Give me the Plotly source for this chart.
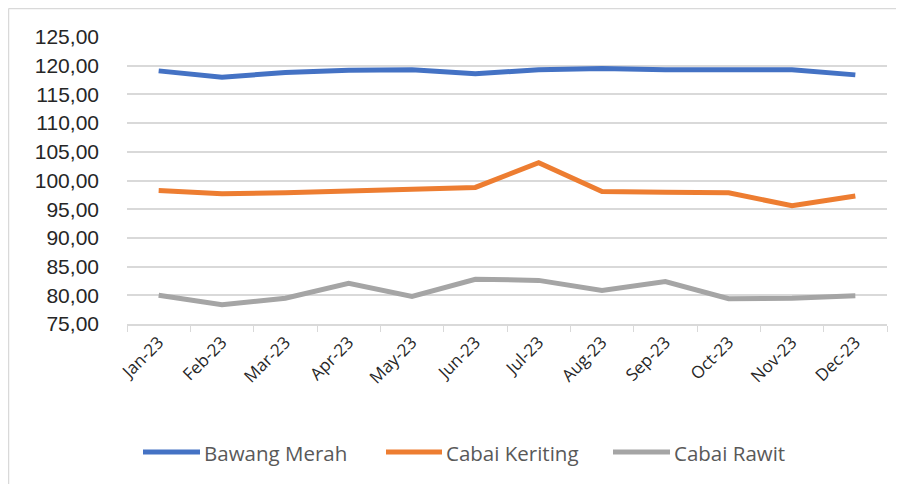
import plotly.graph_objects as go

months = ["Jan-23", "Feb-23", "Mar-23", "Apr-23", "May-23", "Jun-23",
          "Jul-23", "Aug-23", "Sep-23", "Oct-23", "Nov-23", "Dec-23"]
bawang_merah = [119.1, 118.0, 118.8, 119.2, 119.3, 118.6, 119.3, 119.5, 119.3, 119.3, 119.3, 118.4]
cabai_keriting = [98.25, 97.7, 97.85, 98.15, 98.4, 98.8, 103.1, 98.1, 97.95, 97.85, 95.6, 97.3]
cabai_rawit = [80.0, 78.35, 79.5, 82.1, 79.8, 82.8, 82.6, 80.85, 82.4, 79.4, 79.5, 79.9]
y_ticks = [75, 80, 85, 90, 95, 100, 105, 110, 115, 120, 125]

series_names = ["Bawang Merah", "Cabai Keriting", "Cabai Rawit"]
series_values = [bawang_merah, cabai_keriting, cabai_rawit]
series_colors = ["#4472C4", "#ED7D31", "#A5A5A5"]

fig = go.Figure()
for name, vals, color in zip(series_names, series_values, series_colors):
    fig.add_trace(go.Scatter(x=months, y=vals, name=name, mode="lines",
                             line=dict(color=color, width=5), showlegend=False))

# page body has an 8px margin, so the figure is 8px smaller and offset
W, H = 896, 476
L, T, PW, PH = 119, 29, 760, 287
R, B = W - L - PW, H - T - PH
OFF = 8  # offset between screen pixels and figure pixels

def px(x):  # screen x -> paper x
    return (x - OFF - L) / PW

def py(y):  # screen y -> paper y
    return (T + PH - (y - OFF)) / PH

shapes = [
    dict(type="line", xref="paper", yref="paper", x0=px(8.5), x1=px(910), y0=py(8.5), y1=py(8.5),
         line=dict(color="#D9D9D9", width=1.5)),
    dict(type="line", xref="paper", yref="paper", x0=px(8.5), x1=px(8.5), y0=py(8.5), y1=py(490),
         line=dict(color="#D9D9D9", width=1.5)),
]
annotations = []
legend_line_x = [(143, 200), (386, 442), (613, 670)]
legend_y = 452
for (x0, x1), name, color in zip(legend_line_x, series_names, series_colors):
    shapes.append(dict(type="line", xref="paper", yref="paper", x0=px(x0), x1=px(x1),
                       y0=py(legend_y), y1=py(legend_y),
                       line=dict(color=color, width=5)))
    annotations.append(dict(xref="paper", yref="paper", x=px(x1 + 2), y=py(legend_y + 1),
                            xanchor="left", yanchor="middle", showarrow=False, text=name,
                            font=dict(family="Open Sans, Liberation Sans, Arial", size=20.5,
                                      color="#595959")))

fig.update_layout(
    width=W, height=H,
    margin=dict(l=L, r=R, t=T, b=B, autoexpand=False),
    paper_bgcolor="white", plot_bgcolor="white",
    separators=",.",
    showlegend=False,
    xaxis=dict(type="category", showgrid=False, showline=True, linecolor="#D9D9D9", linewidth=1.5,
               ticks="outside", tickson="boundaries", ticklen=6, tickcolor="#D9D9D9",
               tickangle=-45, automargin=False,
               tickfont=dict(family="Open Sans, Liberation Sans, Arial", size=17, color="#262626"),
               range=[-0.5, 11.5]),
    yaxis=dict(range=[75, 125], tickvals=y_ticks, tickformat=".2f", showgrid=True,
               gridcolor="#D9D9D9", gridwidth=1.5, zeroline=False, showline=False,
               automargin=False,
               tickfont=dict(family="Liberation Sans, Arial", size=21, color="#262626"),
               ticklabelstandoff=27),
    shapes=shapes,
    annotations=annotations,
)

fig.write_html("out.html")
